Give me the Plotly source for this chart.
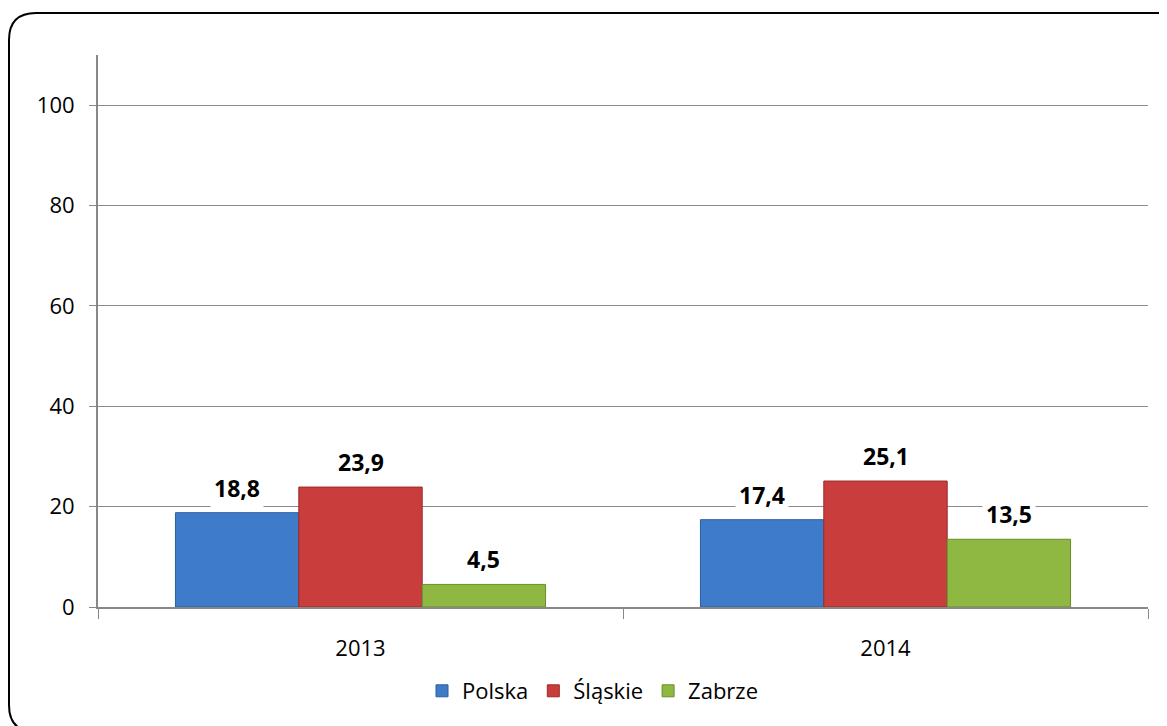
import plotly.graph_objects as go

years = ["2013", "2014"]
series_names = ["Polska", "Śląskie", "Zabrze"]
polska = [18.8, 17.4]
slaskie = [23.9, 25.1]
zabrze = [4.5, 13.5]
values = [polska, slaskie, zabrze]
colors = ["#3e7cc9", "#c93e3c", "#8fb843"]
edge_colors = ["#2c5f9e", "#9a2b2a", "#6a8c2c"]
y_ticks = [0, 20, 40, 60, 80, 100]

OFF = 8  # page body margin
W, H = 1167 - OFF, 726 - OFF
# target plot area on screen: x 98..1148, y 55..607
L = 98 - OFF
T = 55 - OFF
R = W - (1148 - OFF)
B = H - (607 - OFF)
bargap = 0.295

fig = go.Figure()
for name, vals, c, ec in zip(series_names, values, colors, edge_colors):
    fig.add_trace(go.Bar(
        x=years, y=vals, name=name,
        marker=dict(color=c, line=dict(color=ec, width=1)),
    ))

bw = (1 - bargap) / len(series_names)
annotations = []
for i, vals in enumerate(values):
    off = (i - (len(series_names) - 1) / 2) * bw
    for j, v in enumerate(vals):
        annotations.append(dict(
            x=j + off, y=v, xref="x", yref="y",
            text=f"{v:.1f}".replace(".", ","),
            showarrow=False, yshift=25, yanchor="middle",
            bgcolor="white", borderpad=3,
            font=dict(family="Open Sans", size=23, color="#000000", weight="bold"),
        ))

# rounded border (paper coords), screen pixels converted
pw, ph = W - L - R, H - T - B
def px(x): return (x - OFF - L) / pw
def py(y): return (H - B - (y - OFF)) / ph
x0, x1, y0, y1 = px(9), px(1184), py(732), py(13)
rx, ry = 27 / pw, 27 / ph
path = (f"M {x0+rx},{y1} L {x1-rx},{y1} Q {x1},{y1} {x1},{y1-ry} "
        f"L {x1},{y0+ry} Q {x1},{y0} {x1-rx},{y0} L {x0+rx},{y0} "
        f"Q {x0},{y0} {x0},{y0+ry} L {x0},{y1-ry} Q {x0},{y1} {x0+rx},{y1} Z")

fig.update_layout(
    width=W, height=H,
    margin=dict(l=L, r=R, t=T, b=B),
    paper_bgcolor="white", plot_bgcolor="white",
    barmode="group", bargap=bargap, bargroupgap=0,
    font=dict(family="Open Sans", size=20, color="#000000"),
    showlegend=True,
    legend=dict(orientation="h", x=px(593), xanchor="center", y=py(691), yanchor="middle",
                font=dict(size=22), itemwidth=30, traceorder="normal"),
    annotations=annotations,
    shapes=[dict(type="path", path=path, xref="paper", yref="paper",
                 line=dict(color="#000000", width=2), layer="below")],
    xaxis=dict(type="category", tickson="boundaries", ticks="outside", ticklen=10,
               tickcolor="#888888", showline=True, linecolor="#888888", linewidth=2,
               showgrid=False, tickfont=dict(size=22), ticklabelstandoff=21),
    yaxis=dict(range=[0, 110], tickvals=y_ticks, ticks="outside", ticklen=7,
               tickcolor="#888888", showline=True, linecolor="#888888", linewidth=2,
               showgrid=True, gridcolor="#8c8c8c", gridwidth=1, zeroline=False,
               tickfont=dict(size=22), ticklabelstandoff=10),
)

fig.write_html("out.html")
